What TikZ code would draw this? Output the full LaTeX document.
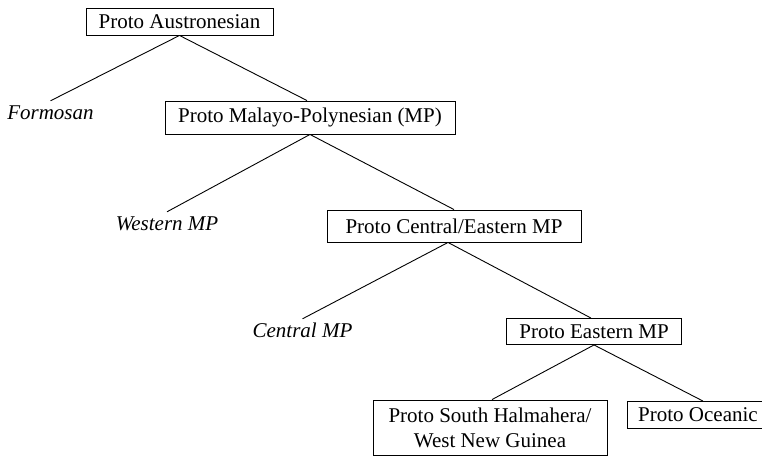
\documentclass[tikz,border=0pt]{standalone}
\usepackage{fontspec}
\setmainfont{Liberation Serif}
\begin{document}
\begin{tikzpicture}[x=1pt,y=-1pt,
  box/.style={draw, line width=0.9pt, inner sep=0pt, align=center,
    font=\fontsize{21}{25}\selectfont},
  lang/.style={inner sep=4pt, text height=14pt, text depth=0pt,
    font=\fontsize{21}{25}\selectfont\itshape},
  edge/.style={line width=0.9pt}]
\useasboundingbox (0,0) rectangle (762,456);

\node[box, minimum width=187pt, minimum height=27pt] (pa) at (179.5,21.5) {Proto Austronesian};
\node[lang] (formosan) at (50.5,112) {Formosan};
\node[box, minimum width=290pt, minimum height=33pt] (pmp) at (310,117.5) {Proto Malayo-Polynesian (MP)};
\node[lang] (western) at (167,223) {Western MP};
\node[box, minimum width=254pt, minimum height=32pt] (pcemp) at (454,226) {Proto Central/Eastern MP};
\node[lang] (central) at (302.5,330) {Central MP};
\node[box, minimum width=175pt, minimum height=26pt] (pemp) at (594,331.5) {Proto Eastern MP};
\node[box, minimum width=234pt, minimum height=55pt] (psh) at (490,427.5) {Proto South Halmahera/\\West New Guinea};
\node[box, minimum width=142pt, minimum height=27pt] (poc) at (698,415) {Proto Oceanic};

\draw[edge] (pa.south) -- (formosan.north);
\draw[edge] (pa.south) -- ([xshift=-3pt]pmp.north);
\draw[edge] (pmp.south) -- (western.north);
\draw[edge] (pmp.south) -- (pcemp.north);
\draw[edge] ([xshift=-6pt]pcemp.south) -- (central.north);
\draw[edge] ([xshift=-6pt]pcemp.south) -- ([xshift=-3pt]pemp.north);
\draw[edge] (pemp.south) -- ([xshift=2pt]psh.north);
\draw[edge] (pemp.south) -- ([xshift=5pt]poc.north);
\end{tikzpicture}
\end{document}
